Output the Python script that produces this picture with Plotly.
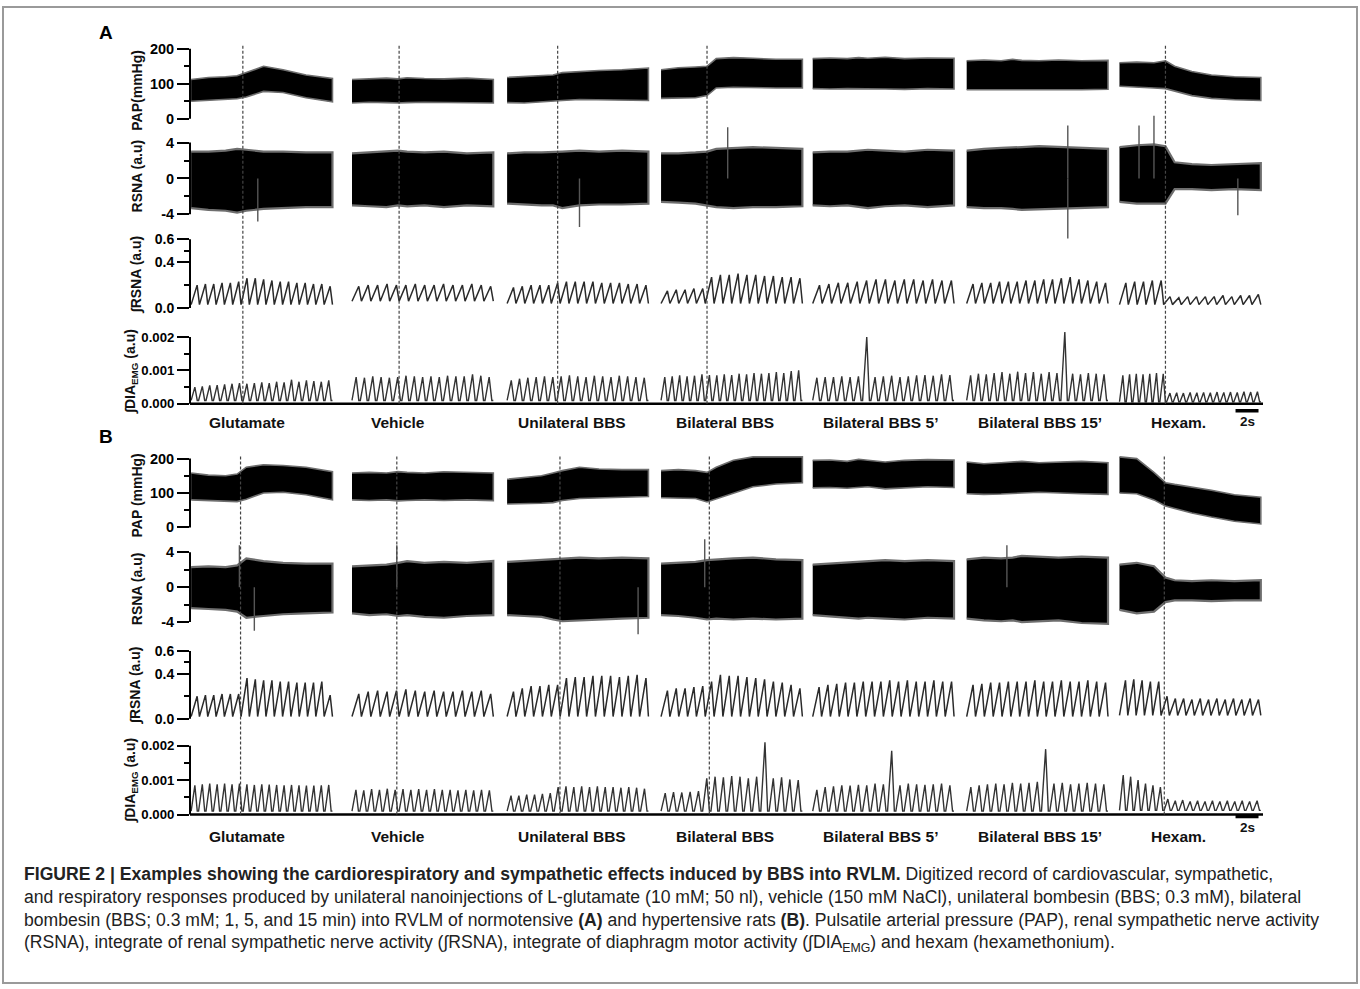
import plotly.graph_objects as go

W, H = 1360, 989

# ---------------- data ----------------
SEGMENTS = ["Glutamate", "Vehicle", "Unilateral BBS", "Bilateral BBS",
            "Bilateral BBS 5’", "Bilateral BBS 15’", "Hexam."]
SEG_LEN = 12.3                      # seconds per recording segment
KNOT_T = [0.0, 1.5, 3.0, 4.0, 4.8, 6.3, 8.0, 10.0, 12.3]   # envelope sample times (s)

A_DASH_T = [4.5, 4.1, 4.4, 4.0, None, None, 4.0]
B_DASH_T = [4.3, 3.9, 4.6, 4.2, None, None, 3.9]

# PAP envelopes (mmHg)
A_PAP_LOW = [
    [50, 52, 55, 57, 62, 78, 75, 60, 48],
    [45, 47, 46, 45, 46, 47, 45, 46, 45],
    [46, 45, 48, 50, 52, 55, 54, 53, 52],
    [58, 58, 60, 66, 88, 90, 90, 88, 88],
    [86, 85, 86, 87, 86, 85, 84, 86, 85],
    [83, 84, 82, 83, 84, 82, 83, 83, 84],
    [93, 90, 88, 86, 80, 66, 58, 54, 52],
]
A_PAP_HIGH = [
    [112, 118, 120, 123, 132, 150, 140, 125, 115],
    [112, 115, 116, 114, 117, 115, 114, 116, 112],
    [118, 120, 122, 125, 132, 135, 138, 140, 145],
    [140, 146, 148, 150, 172, 175, 173, 170, 170],
    [172, 174, 172, 175, 173, 176, 172, 174, 173],
    [166, 168, 166, 170, 167, 166, 168, 166, 167],
    [160, 162, 160, 166, 150, 135, 125, 120, 118],
]
B_PAP_LOW = [
    [80, 78, 76, 75, 82, 100, 102, 95, 80],
    [80, 78, 80, 77, 78, 80, 78, 80, 78],
    [68, 68, 70, 72, 78, 84, 86, 88, 90],
    [86, 85, 84, 74, 82, 100, 118, 126, 130],
    [115, 116, 114, 116, 118, 112, 114, 118, 116],
    [98, 96, 97, 98, 100, 102, 100, 98, 96],
    [100, 98, 80, 62, 55, 42, 30, 18, 10],
]
B_PAP_HIGH = [
    [158, 152, 150, 155, 175, 182, 180, 175, 162],
    [158, 160, 158, 162, 160, 158, 162, 160, 158],
    [140, 145, 150, 158, 165, 175, 170, 168, 168],
    [165, 168, 165, 160, 175, 195, 205, 205, 205],
    [195, 196, 192, 198, 195, 190, 195, 197, 196],
    [190, 185, 188, 190, 192, 188, 190, 192, 188],
    [205, 200, 160, 130, 125, 118, 108, 95, 88],
]

# RSNA envelopes (a.u)
A_RSNA_HIGH = [
    [3.0, 3.0, 3.1, 3.3, 3.2, 3.0, 3.0, 2.9, 2.9],
    [2.8, 2.9, 3.0, 3.1, 3.0, 2.9, 3.0, 2.8, 2.9],
    [2.8, 2.9, 2.9, 3.0, 3.0, 3.1, 3.0, 3.1, 3.0],
    [2.8, 2.8, 2.9, 3.0, 3.3, 3.4, 3.5, 3.4, 3.3],
    [2.9, 3.0, 3.0, 3.1, 3.2, 3.1, 3.0, 3.2, 3.1],
    [3.1, 3.3, 3.4, 3.5, 3.5, 3.6, 3.5, 3.4, 3.3],
    [3.5, 3.7, 3.8, 3.6, 1.8, 1.6, 1.5, 1.6, 1.7],
]
A_RSNA_LOW = [
    [-3.3, -3.5, -3.6, -3.8, -3.6, -3.4, -3.3, -3.2, -3.2],
    [-3.0, -3.1, -3.2, -3.0, -3.1, -3.0, -3.2, -3.0, -3.1],
    [-2.8, -2.9, -3.0, -3.0, -3.3, -3.0, -2.9, -2.9, -2.8],
    [-2.6, -2.7, -2.8, -3.0, -3.2, -3.3, -3.2, -3.2, -3.1],
    [-3.0, -3.1, -3.0, -3.2, -3.3, -3.1, -3.0, -3.2, -3.0],
    [-3.2, -3.3, -3.3, -3.4, -3.5, -3.5, -3.4, -3.3, -3.2],
    [-2.6, -2.8, -2.8, -2.8, -1.2, -1.2, -1.3, -1.2, -1.3],
]
B_RSNA_HIGH = [
    [2.3, 2.4, 2.3, 2.5, 3.3, 3.0, 2.8, 2.7, 2.7],
    [2.4, 2.5, 2.6, 2.8, 3.0, 2.8, 2.9, 2.8, 3.0],
    [2.9, 3.0, 3.1, 3.2, 3.3, 3.4, 3.3, 3.4, 3.3],
    [2.7, 2.8, 2.9, 3.1, 3.2, 3.3, 3.4, 3.2, 3.1],
    [2.6, 2.7, 2.8, 2.9, 3.0, 3.1, 3.0, 3.1, 3.0],
    [3.2, 3.4, 3.3, 3.4, 3.6, 3.5, 3.4, 3.5, 3.4],
    [2.6, 2.8, 2.4, 1.1, 0.8, 0.7, 0.8, 0.7, 0.8],
]
B_RSNA_LOW = [
    [-2.4, -2.5, -2.6, -2.8, -3.5, -3.3, -3.1, -3.0, -2.9],
    [-3.0, -3.2, -3.1, -3.3, -3.2, -3.4, -3.5, -3.3, -3.2],
    [-3.2, -3.3, -3.4, -3.7, -3.9, -3.8, -3.7, -3.6, -3.5],
    [-3.2, -3.3, -3.5, -3.7, -3.6, -3.7, -3.6, -3.7, -3.6],
    [-3.2, -3.4, -3.5, -3.6, -3.5, -3.6, -3.7, -3.5, -3.6],
    [-3.6, -3.8, -3.9, -3.8, -4.0, -3.9, -3.8, -4.1, -4.2],
    [-2.6, -3.0, -2.8, -1.7, -1.5, -1.5, -1.6, -1.5, -1.5],
]
# isolated RSNA spikes: (segment, time s, value a.u)
A_RSNA_SPIKES = [(0, 5.8, -4.8), (2, 6.3, -5.4), (3, 5.8, 5.7), (5, 8.8, -6.7),
                 (5, 8.8, 5.9), (6, 1.7, 5.9), (6, 3.0, 7.0), (6, 10.3, -4.1)]
B_RSNA_SPIKES = [(0, 4.2, 4.8), (0, 5.5, -5.0), (1, 3.9, 4.8), (2, 11.4, -5.4),
                 (3, 3.8, 5.5), (5, 3.5, 4.8)]

# integrated RSNA: peak of each integration cycle, and trough level per segment
A_IRSNA_PEAKS = [
    [0.20, 0.21, 0.21, 0.22, 0.22, 0.23, 0.26, 0.26, 0.25, 0.24, 0.23, 0.23, 0.22, 0.22, 0.21, 0.21, 0.19],
    [0.19, 0.20, 0.20, 0.21, 0.20, 0.20, 0.21, 0.20, 0.20, 0.21, 0.20, 0.20, 0.21, 0.20, 0.19],
    [0.18, 0.19, 0.20, 0.20, 0.20, 0.22, 0.23, 0.23, 0.23, 0.23, 0.22, 0.22, 0.22, 0.21, 0.21, 0.20],
    [0.15, 0.16, 0.16, 0.17, 0.17, 0.27, 0.29, 0.29, 0.30, 0.29, 0.29, 0.28, 0.28, 0.27, 0.27, 0.26],
    [0.20, 0.21, 0.22, 0.22, 0.23, 0.24, 0.25, 0.25, 0.24, 0.25, 0.25, 0.24, 0.25, 0.24, 0.24],
    [0.21, 0.22, 0.22, 0.23, 0.23, 0.23, 0.24, 0.24, 0.25, 0.25, 0.26, 0.27, 0.25, 0.24, 0.23, 0.22],
    [0.22, 0.23, 0.23, 0.24, 0.24, 0.10, 0.09, 0.10, 0.10, 0.10, 0.10, 0.11, 0.10, 0.11, 0.11, 0.12],
]
A_IRSNA_BASE = [0.03, 0.06, 0.04, 0.04, 0.04, 0.04, 0.03]
B_IRSNA_PEAKS = [
    [0.20, 0.21, 0.21, 0.22, 0.22, 0.22, 0.36, 0.35, 0.34, 0.34, 0.33, 0.33, 0.32, 0.32, 0.32, 0.33, 0.21],
    [0.22, 0.24, 0.25, 0.24, 0.25, 0.26, 0.25, 0.24, 0.25, 0.24, 0.24, 0.25, 0.24, 0.25, 0.22],
    [0.24, 0.27, 0.29, 0.29, 0.30, 0.30, 0.36, 0.37, 0.37, 0.38, 0.38, 0.38, 0.37, 0.38, 0.39, 0.36],
    [0.25, 0.27, 0.27, 0.28, 0.29, 0.33, 0.39, 0.38, 0.38, 0.37, 0.36, 0.35, 0.33, 0.32, 0.30, 0.27],
    [0.28, 0.30, 0.31, 0.32, 0.32, 0.33, 0.33, 0.33, 0.34, 0.33, 0.34, 0.33, 0.33, 0.34, 0.33, 0.33],
    [0.30, 0.31, 0.32, 0.32, 0.33, 0.33, 0.33, 0.34, 0.33, 0.33, 0.34, 0.33, 0.33, 0.34, 0.33, 0.32],
    [0.34, 0.35, 0.34, 0.33, 0.33, 0.20, 0.18, 0.18, 0.17, 0.18, 0.17, 0.18, 0.17, 0.18, 0.17, 0.18, 0.17],
]
B_IRSNA_BASE = [0.02, 0.02, 0.02, 0.02, 0.02, 0.02, 0.03]

# integrated diaphragm EMG: burst peaks in units of 0.001 a.u
DIA_UNIT = 0.001
A_DIA_PEAKS = [
    [0.50, 0.52, 0.55, 0.56, 0.58, 0.60, 0.62, 0.60, 0.62, 0.64, 0.62, 0.66, 0.64, 0.72, 0.66, 0.70, 0.68, 0.66, 0.70],
    [0.80, 0.78, 0.82, 0.80, 0.78, 0.80, 0.84, 0.82, 0.80, 0.82, 0.80, 0.84, 0.82, 0.82, 0.88, 0.84, 0.80],
    [0.70, 0.75, 0.78, 0.80, 0.82, 0.80, 0.82, 0.85, 0.82, 0.80, 0.84, 0.82, 0.80, 0.84, 0.82, 0.80, 0.78],
    [0.80, 0.82, 0.85, 0.82, 0.84, 0.88, 0.86, 0.85, 0.88, 0.86, 0.90, 0.88, 0.92, 0.90, 0.92, 0.95, 0.92, 0.98, 1.00],
    [0.78, 0.80, 0.80, 0.82, 0.80, 0.82, 2.00, 0.80, 0.82, 0.84, 0.80, 0.82, 0.85, 0.86, 0.84, 0.88, 0.86],
    [0.85, 0.90, 0.88, 0.92, 0.95, 0.90, 0.96, 0.92, 0.95, 0.90, 0.95, 0.92, 2.15, 0.90, 0.88, 0.92, 0.90, 0.88],
    [0.85, 0.88, 0.90, 0.88, 0.90, 0.92, 0.90, 0.32, 0.33, 0.32, 0.34, 0.33, 0.34, 0.33, 0.35, 0.34, 0.35, 0.34, 0.36, 0.35, 0.36],
]
A_DIA_BASE = [0.10, 0.10, 0.10, 0.10, 0.10, 0.10, 0.06]
B_DIA_PEAKS = [
    [0.85, 0.88, 0.90, 0.88, 0.90, 0.88, 0.90, 0.88, 0.86, 0.88, 0.87, 0.86, 0.85, 0.86, 0.85, 0.84, 0.84, 0.85, 0.86],
    [0.72, 0.70, 0.74, 0.72, 0.75, 0.72, 0.74, 0.72, 0.74, 0.72, 0.74, 0.72, 0.72, 0.70, 0.72, 0.70, 0.72, 0.70],
    [0.55, 0.55, 0.58, 0.58, 0.60, 0.62, 0.80, 0.82, 0.80, 0.82, 0.80, 0.82, 0.80, 0.80, 0.78, 0.80, 0.78, 0.75],
    [0.62, 0.65, 0.64, 0.66, 0.68, 1.05, 1.10, 1.08, 1.12, 1.10, 1.05, 1.10, 2.10, 1.05, 1.08, 1.02, 1.00],
    [0.72, 0.80, 0.82, 0.85, 0.84, 0.86, 0.85, 0.90, 0.88, 1.85, 0.85, 0.90, 0.88, 0.86, 0.88, 0.90, 0.85],
    [0.80, 0.85, 0.88, 0.90, 0.88, 0.92, 0.90, 0.92, 0.95, 1.90, 0.90, 0.92, 0.88, 0.90, 0.92, 0.90, 0.88],
    [1.15, 1.10, 1.00, 0.90, 0.85, 0.80, 0.45, 0.40, 0.42, 0.38, 0.40, 0.38, 0.40, 0.38, 0.40, 0.38, 0.40, 0.38, 0.40],
]
B_DIA_BASE = [0.10, 0.10, 0.10, 0.10, 0.10, 0.10, 0.12]

CAPTION = [
    "<b>FIGURE 2 | Examples showing the cardiorespiratory and sympathetic effects induced by BBS into RVLM.</b> "
    "Digitized record of cardiovascular, sympathetic,",
    "and respiratory responses produced by unilateral nanoinjections of L-glutamate (10 mM; 50 nl), vehicle "
    "(150 mM NaCl), unilateral bombesin (BBS; 0.3 mM), bilateral",
    "bombesin (BBS; 0.3 mM; 1, 5, and 15 min) into RVLM of normotensive <b>(A)</b> and hypertensive rats "
    "<b>(B)</b>. Pulsatile arterial pressure (PAP), renal sympathetic nerve activity",
    "(RSNA), integrate of renal sympathetic nerve activity (∫RSNA), integrate of diaphragm motor activity "
    "(∫DIA<sub>EMG</sub>) and hexam (hexamethonium).",
]

# ---------------- layout constants ----------------
FONT = "Liberation Sans, Arial, sans-serif"
X0_PX, X1_PX = 190, 1270
X_RANGE = [-0.1, 93.9]
SEG_OFFSET = [0.0, 14.0, 27.5, 40.9, 54.1, 67.5, 80.8]     # segment start on the page time axis (s)
LABEL_X_PX = [247, 398, 572, 725, 880, 1040, 1178]


def py(p):
    return 1 - p / H


def pxx(p):
    return p / W


def seg_x(i, t):
    return SEG_OFFSET[i] + t


# rows: (kind, domain top px, domain bottom px, v0, p0, v1, p1)
ROWS = {
    "A": [("pap", 36, 128, 0, 118, 200, 48),
          ("rsna", 108, 244, -4, 214, 4, 142),
          ("irsna", 232, 314, 0, 308, 0.6, 239),
          ("dia", 326, 410, 0, 404, 0.002, 337)],
    "B": [("pap", 446, 538, 0, 528, 200, 459),
          ("rsna", 516, 646, -4, 623, 4, 553),
          ("irsna", 640, 726, 0, 720, 0.6, 652),
          ("dia", 738, 822, 0, 816, 0.002, 747)],
}
# tick values, tick texts, minor ticks, tick-label size
TICKS = {
    "pap": ([0, 100, 200], ["0", "100", "200"], [50, 150], 14.5),
    "rsna": ([-4, 0, 4], ["-4", "0", "4"], [-2, 2], 14.5),
    "irsna": ([0, 0.4, 0.6], ["0.0", "0.4", "0.6"], [0.2, 0.5], 14),
    "dia": ([0, 0.001, 0.002], ["0.000", "0.001", "0.002"], [0.0005, 0.0015], 13.2),
}
# (text, centre y px, centre x px)
TITLES = {
    "A": [("PAP(mmHg)", 90, 137), ("RSNA (a.u)", 176, 137), ("∫RSNA (a.u)", 275, 136),
          ("∫DIA<sub>EMG</sub> (a.u)", 372, 131)],
    "B": [("PAP (mmHg)", 496, 137), ("RSNA (a.u)", 590, 137), ("∫RSNA (a.u)", 687, 136),
          ("∫DIA<sub>EMG</sub> (a.u)", 782, 131)],
}

fig = go.Figure()
layout_axes = {}
shapes = []
annotations = []

DATA = {
    "A": dict(pap=(A_PAP_LOW, A_PAP_HIGH), rsna=(A_RSNA_LOW, A_RSNA_HIGH), spikes=A_RSNA_SPIKES,
              irsna=(A_IRSNA_PEAKS, A_IRSNA_BASE), dia=(A_DIA_PEAKS, A_DIA_BASE), dash=A_DASH_T),
    "B": dict(pap=(B_PAP_LOW, B_PAP_HIGH), rsna=(B_RSNA_LOW, B_RSNA_HIGH), spikes=B_RSNA_SPIKES,
              irsna=(B_IRSNA_PEAKS, B_IRSNA_BASE), dia=(B_DIA_PEAKS, B_DIA_BASE), dash=B_DASH_T),
}

axis_n = 0
for panel in ["A", "B"]:
    d = DATA[panel]
    axis_ids = {}
    for kind, top, bot, v0, p0, v1, p1 in ROWS[panel]:
        axis_n += 1
        yid = "y" if axis_n == 1 else f"y{axis_n}"
        key = "yaxis" if axis_n == 1 else f"yaxis{axis_n}"
        axis_ids[kind] = yid
        s = (v1 - v0) / (p0 - p1)
        rng = [v0 - (bot - p0) * s, v0 + (p0 - top) * s]
        tv, tt, minor, fsize = TICKS[kind]
        layout_axes[key] = dict(
            domain=[py(bot), py(top)], range=rng, anchor="x", showline=False, showgrid=False,
            zeroline=False, tickmode="array", tickvals=tv, ticktext=tt, ticks="outside",
            ticklen=12, tickwidth=2, tickcolor="black",
            tickfont=dict(family=FONT, size=fsize, color="black", weight="bold"),
            minor=dict(tickmode="array", tickvals=minor, ticks="outside", ticklen=5,
                       tickwidth=2, tickcolor="black", showgrid=False),
            fixedrange=True)
        # vertical axis line spanning the labelled range only
        shapes.append(dict(type="line", xref="paper", yref=yid, x0=pxx(X0_PX), x1=pxx(X0_PX),
                           y0=tv[0], y1=tv[-1], line=dict(color="black", width=2)))

    # --- PAP and RSNA envelopes (filled bands) ---
    for kind, lw in [("pap", 1.6), ("rsna", 2.2)]:
        low, high = d[kind]
        xs, ys = [], []
        for i in range(len(SEGMENTS)):
            xs += [seg_x(i, t) for t in KNOT_T] + [seg_x(i, t) for t in KNOT_T[::-1]] + [None]
            ys += list(high[i]) + list(low[i][::-1]) + [None]
        fig.add_trace(go.Scatter(x=xs, y=ys, yaxis=axis_ids[kind], mode="lines", fill="toself",
                                 fillcolor="black", line=dict(color="#6e6e6e", width=lw),
                                 hoverinfo="skip", showlegend=False))
    # RSNA spikes
    xs, ys = [], []
    for seg, t, v in d["spikes"]:
        xs += [seg_x(seg, t), seg_x(seg, t), None]
        ys += [0, v, None]
    fig.add_trace(go.Scatter(x=xs, y=ys, yaxis=axis_ids["rsna"], mode="lines",
                             line=dict(color="#555555", width=1.4), hoverinfo="skip", showlegend=False))

    # --- integrated RSNA sawtooth ---
    peaks, base = d["irsna"]
    xs, ys = [], []
    for i, pk in enumerate(peaks):
        per = SEG_LEN / len(pk)
        for j, v in enumerate(pk):
            t0 = j * per
            xs += [seg_x(i, t0), seg_x(i, t0 + 0.72 * per)]
            ys += [base[i], v]
        xs += [seg_x(i, SEG_LEN), None]
        ys += [base[i], None]
    fig.add_trace(go.Scatter(x=xs, y=ys, yaxis=axis_ids["irsna"], mode="lines",
                             line=dict(color="#2a2a2a", width=1.5), hoverinfo="skip", showlegend=False))

    # --- integrated DIA bursts ---
    peaks, base = d["dia"]
    xs, ys = [], []
    for i, pk in enumerate(peaks):
        per = SEG_LEN / len(pk)
        for j, v in enumerate(pk):
            t0 = j * per
            xs += [seg_x(i, t0), seg_x(i, t0 + 0.5 * per), seg_x(i, t0 + 0.82 * per)]
            ys += [base[i] * DIA_UNIT, v * DIA_UNIT, base[i] * DIA_UNIT]
        xs += [seg_x(i, SEG_LEN), None]
        ys += [base[i] * DIA_UNIT, None]
    fig.add_trace(go.Scatter(x=xs, y=ys, yaxis=axis_ids["dia"], mode="lines",
                             line=dict(color="#333333", width=1.4), hoverinfo="skip", showlegend=False))

    # DIA baseline
    shapes.append(dict(type="line", xref="paper", yref=axis_ids["dia"], x0=pxx(X0_PX), x1=pxx(1263),
                       y0=0, y1=0, line=dict(color="black", width=2.5)))

    # dashed injection markers
    top_px = 45 if panel == "A" else 457
    bot_px = 404 if panel == "A" else 816
    for i, t in enumerate(d["dash"]):
        if t is None:
            continue
        shapes.append(dict(type="line", xref="x", yref="paper", x0=seg_x(i, t), x1=seg_x(i, t),
                           y0=py(bot_px), y1=py(top_px),
                           line=dict(color="#444444", width=1.2, dash="3px,2px")))

    # segment labels
    lab_y = 423 if panel == "A" else 838
    for name, xp in zip(SEGMENTS, LABEL_X_PX):
        annotations.append(dict(text=f"<b>{name}</b>", xref="paper", yref="paper", x=pxx(xp), y=py(lab_y),
                                showarrow=False, xanchor="center", yanchor="middle",
                                font=dict(family=FONT, size=15.5, color="#111")))
    # 2 s scale bar
    bar_y = 411 if panel == "A" else 818
    shapes.append(dict(type="line", xref="x", yref="paper", x0=90.9, x1=92.9, y0=py(bar_y), y1=py(bar_y),
                       line=dict(color="black", width=3.5)))
    annotations.append(dict(text="<b>2s</b>", xref="x", yref="paper", x=91.9, y=py(bar_y + 11),
                            showarrow=False, xanchor="center", yanchor="middle",
                            font=dict(family=FONT, size=13.5, color="#111")))
    # panel letter
    annotations.append(dict(text=f"<b>{panel}</b>", xref="paper", yref="paper",
                            x=pxx(106), y=py(32 if panel == "A" else 437), showarrow=False,
                            xanchor="center", yanchor="middle", font=dict(family=FONT, size=19, color="black")))
    # axis titles
    for txt, yc, xc in TITLES[panel]:
        annotations.append(dict(text=f"<b>{txt}</b>", xref="paper", yref="paper", x=pxx(xc), y=py(yc),
                                showarrow=False, textangle=-90, xanchor="center", yanchor="middle",
                                font=dict(family=FONT, size=14, color="#111")))

# caption
for k, line in enumerate(CAPTION):
    annotations.append(dict(text=line, xref="paper", yref="paper", x=pxx(22), y=py(876 + 23 * k),
                            showarrow=False, xanchor="left", yanchor="middle",
                            font=dict(family="Liberation Sans, Arial", size=17.6, color="#222")))

# figure frame
shapes.append(dict(type="rect", xref="paper", yref="paper", x0=pxx(3), x1=pxx(1357), y0=py(985), y1=py(6),
                   line=dict(color="#9a9a9a", width=2), fillcolor="rgba(0,0,0,0)", layer="below"))

fig.update_layout(
    width=W, height=H, autosize=False, margin=dict(l=0, r=0, t=0, b=0),
    paper_bgcolor="white", plot_bgcolor="rgba(0,0,0,0)", showlegend=False,
    xaxis=dict(domain=[pxx(X0_PX), pxx(X1_PX)], range=X_RANGE, visible=False, fixedrange=True),
    shapes=shapes, annotations=annotations,
    **layout_axes,
)

fig.write_html("out.html")
